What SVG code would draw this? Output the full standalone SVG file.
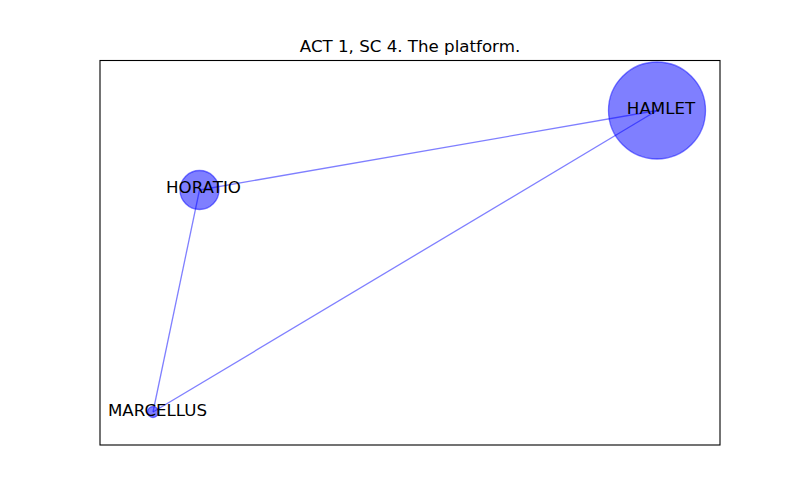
<svg xmlns="http://www.w3.org/2000/svg" width="800" height="500" viewBox="0 0 800 500">
<style>
.edge{stroke:#0000ff;stroke-opacity:0.5;stroke-width:1.3;fill:none}
.node{fill:#0000ff;fill-opacity:0.5;stroke:#0000ff;stroke-opacity:0.5;stroke-width:1.3}
.lbl{font-family:"DejaVu Sans",sans-serif;font-size:16.67px;fill:#000;text-anchor:middle}
</style>
<rect x="0" y="0" width="800" height="500" fill="#fff"/>
<rect x="100" y="60.5" width="620" height="384.5" fill="none" stroke="#000" stroke-width="1.1"/>
<text class="lbl" x="410" y="52.3">ACT 1, SC 4. The platform.</text>
<g id="connectors">
<line class="edge" x1="657" y1="110.5" x2="199.5" y2="190"/>
<line class="edge" x1="657" y1="110.5" x2="153" y2="412"/>
<line class="edge" x1="199.5" y1="190" x2="153" y2="412"/>
</g>
<g id="HAMLET">
<circle class="node" cx="657" cy="110.5" r="48.5"/>
<text class="lbl" x="661" y="113.5">HAMLET</text>
</g>
<g id="HORATIO">
<circle class="node" cx="199.5" cy="190" r="19.5"/>
<text class="lbl" x="203.5" y="193">HORATIO</text>
</g>
<g id="MARCELLUS">
<circle class="node" cx="153" cy="412" r="5.5"/>
<text class="lbl" x="157.5" y="415.7">MARCELLUS</text>
</g>
</svg>
